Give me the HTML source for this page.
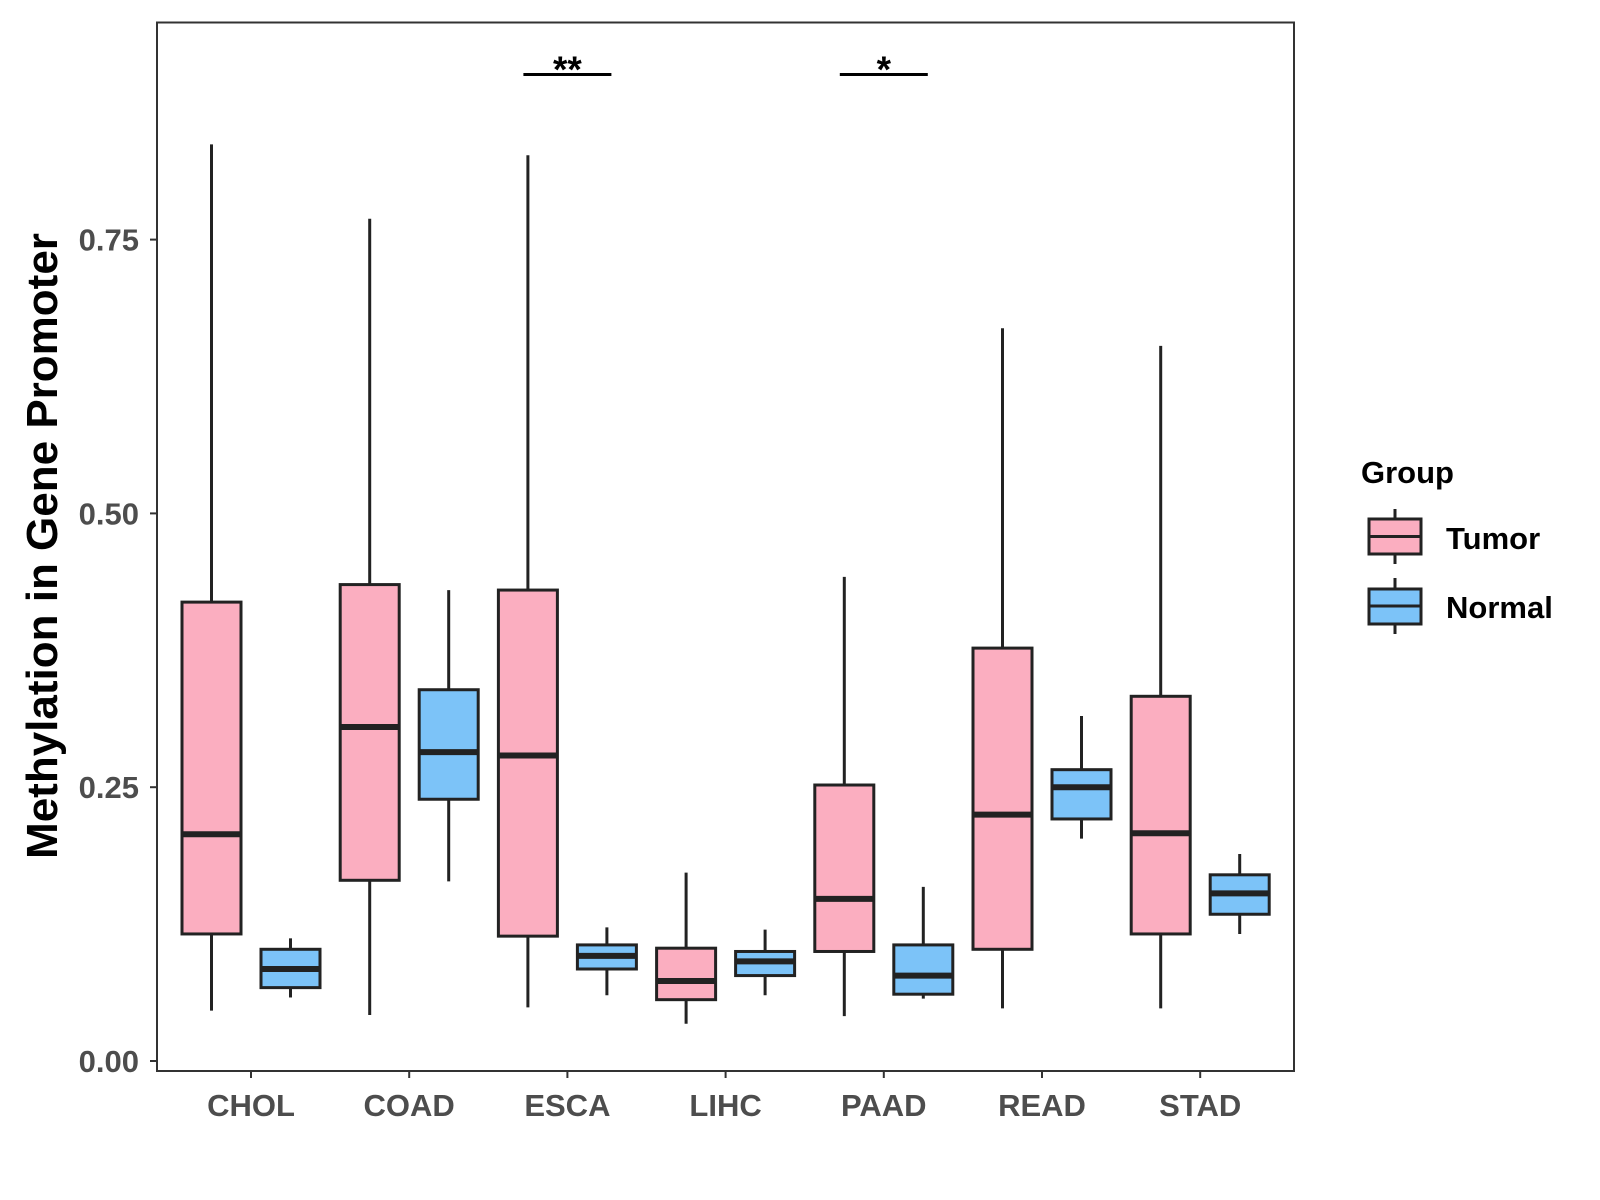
<!DOCTYPE html>
<html><head><meta charset="utf-8"><style>
body{margin:0;background:#fff}
svg{display:block;font-family:"Liberation Sans",Arial,sans-serif;font-weight:bold}
</style></head><body>
<svg id="chart" width="1600" height="1200" viewBox="0 0 1600 1200" xmlns="http://www.w3.org/2000/svg">
<rect x="0" y="0" width="1600" height="1200" fill="#fff"/>
<g id="marks"></g>
<rect x="157" y="22.5" width="1137" height="1048.5" fill="none" stroke="#333" stroke-width="2"/>
<text transform="translate(57,546) rotate(-90)" text-anchor="middle" font-size="44" fill="#000">Methylation in Gene Promoter</text>
<g>
<text x="1361" y="483" font-size="31" fill="#000">Group</text>
<g>
<line x1="1395" x2="1395" y1="509" y2="564" stroke="#222" stroke-width="3"/>
<rect x="1369" y="519" width="52" height="35" fill="#FBAEC0" stroke="#222" stroke-width="3"/>
<line x1="1369" x2="1421" y1="536.5" y2="536.5" stroke="#222" stroke-width="3"/>
<text x="1446" y="549" font-size="31" fill="#000">Tumor</text>
</g>
<g>
<line x1="1395" x2="1395" y1="578" y2="634" stroke="#222" stroke-width="3"/>
<rect x="1369" y="589" width="52" height="35" fill="#7CC3F8" stroke="#222" stroke-width="3"/>
<line x1="1369" x2="1421" y1="606" y2="606" stroke="#222" stroke-width="3"/>
<text x="1446" y="618" font-size="31" fill="#000">Normal</text>
</g>
</g>
</svg>
<script>
const categories = ["CHOL","COAD","ESCA","LIHC","PAAD","READ","STAD"];
// [lowWhisker, Q1, median, Q3, highWhisker]
const tumorStats = [
 [0.046,0.116,0.207,0.419,0.837],
 [0.042,0.165,0.305,0.435,0.769],
 [0.049,0.114,0.279,0.430,0.827],
 [0.034,0.056,0.073,0.103,0.172],
 [0.041,0.100,0.148,0.252,0.442],
 [0.048,0.102,0.225,0.377,0.669],
 [0.048,0.116,0.208,0.333,0.653]
];
const normalStats = [
 [0.058,0.067,0.084,0.102,0.112],
 [0.164,0.239,0.282,0.339,0.430],
 [0.060,0.084,0.096,0.106,0.122],
 [0.060,0.078,0.091,0.100,0.120],
 [0.057,0.061,0.078,0.106,0.159],
 [0.203,0.221,0.250,0.266,0.315],
 [0.116,0.134,0.153,0.170,0.189]
];
const yTicks = [0, 0.25, 0.5, 0.75];
const yTickLabels = ["0.00","0.25","0.50","0.75"];
const sigCategories = ["ESCA","PAAD"];
const sigLabels = ["**","*"];

const NS="http://www.w3.org/2000/svg";
const g=document.getElementById('marks');
const y=v=>1061-v*1095.2;
const x=i=>251+i*158.2;
function mk(tag,attrs,parent){const e=document.createElementNS(NS,tag);for(const k in attrs)e.setAttribute(k,attrs[k]);(parent||g).appendChild(e);return e;}

yTicks.forEach((t,i)=>{
  const tk=mk('line',{x1:150,x2:157,y1:y(t),y2:y(t),stroke:'#333','stroke-width':2});
  
  
  const tx=mk('text',{x:139,y:y(t)+11,'text-anchor':'end','font-size':31,fill:'#4d4d4d'});
  tx.textContent=yTickLabels[i];
  
  
});
categories.forEach((c,i)=>{
  const tk=mk('line',{x1:x(i),x2:x(i),y1:1071,y2:1078,stroke:'#333','stroke-width':2});
  
  
  const tx=mk('text',{x:x(i),y:1116,'text-anchor':'middle','font-size':31,fill:'#4d4d4d'});
  tx.textContent=c;
  
  
});
function box(cx,s,fill,name){
  const grp=mk('g',{});
  
  
  mk('line',{x1:cx,x2:cx,y1:y(s[4]),y2:y(s[0]),stroke:'#222','stroke-width':3},grp);
  const w=59;
  mk('rect',{x:cx-w/2,y:y(s[3]),width:w,height:y(s[1])-y(s[3]),fill:fill,stroke:'#222','stroke-width':3},grp);
  mk('line',{x1:cx-w/2,x2:cx+w/2,y1:y(s[2]),y2:y(s[2]),stroke:'#222','stroke-width':6},grp);
}
categories.forEach((c,i)=>{
  box(x(i)-39.5,tumorStats[i],'#FBAEC0','box-tumor-'+c.toLowerCase());
  box(x(i)+39.5,normalStats[i],'#7CC3F8','box-normal-'+c.toLowerCase());
});
sigCategories.forEach((c,k)=>{
  const i=categories.indexOf(c);
  const l=mk('line',{x1:x(i)-44,x2:x(i)+44,y1:74.5,y2:74.5,stroke:'#000','stroke-width':3});
  
  
  const t=mk('text',{x:x(i),y:82,'text-anchor':'middle','font-size':37,fill:'#000'});
  t.textContent=sigLabels[k];
  
  
});
</script>
</body></html>
